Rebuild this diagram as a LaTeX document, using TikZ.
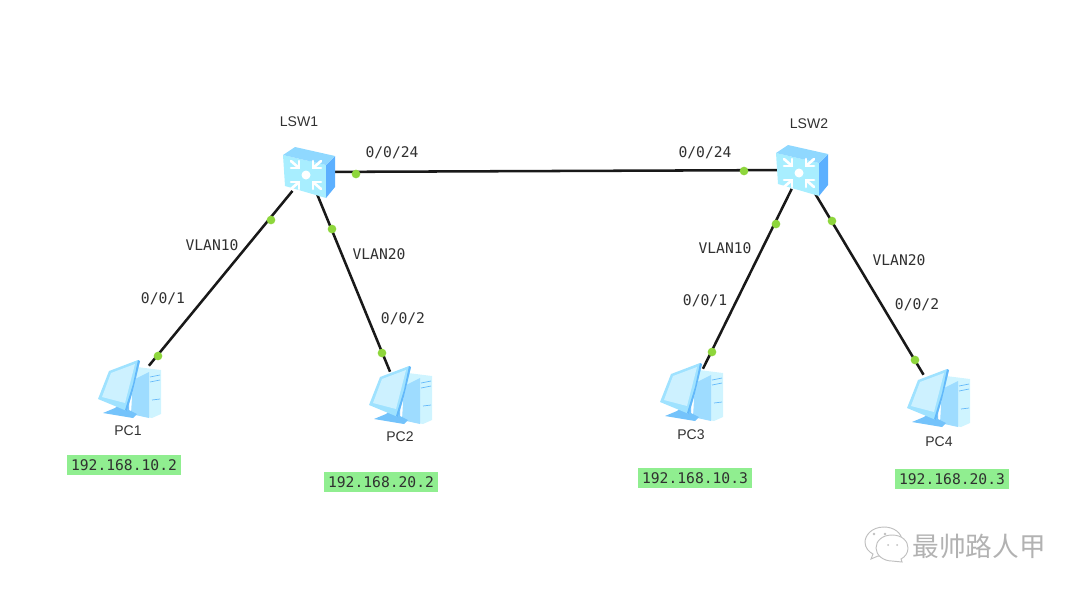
\documentclass[tikz,border=0pt]{standalone}
\usepackage{fontspec}
\setmainfont{Liberation Sans}
\setmonofont{DejaVu Sans Mono}
\newfontfamily\cjkfont{Noto Sans CJK SC}
\usetikzlibrary{positioning}
\definecolor{swfront}{HTML}{A8EEFF}
\definecolor{swside}{HTML}{5CB0FF}
\definecolor{swtop}{HTML}{8FD8FF}
\definecolor{pcscreen}{HTML}{CDF1FF}
\definecolor{pcframe}{HTML}{9FE2FF}
\definecolor{pcbody}{HTML}{9EDCFF}
\definecolor{pcdark}{HTML}{62B8FA}
\definecolor{pclight}{HTML}{CFF4FF}
\definecolor{portgreen}{HTML}{8ED63C}
\definecolor{ipgreen}{HTML}{90EE90}
\definecolor{labelgray}{HTML}{303030}
\tikzset{
  hub/.style={inner sep=0pt, minimum size=28pt},
  host/.style={inner sep=0pt, minimum width=40pt, minimum height=36pt},
  link/.style={line width=1.9pt, draw=black!90},
  portdot/.style={circle, fill=portgreen, inner sep=0pt, minimum size=6.5pt},
  portlabel/.style={font=\ttfamily\fontsize{11}{13}\selectfont, text=labelgray, inner sep=0pt},
  devlabel/.style={font=\fontsize{10.5}{12}\selectfont, text=labelgray, inner sep=0pt},
  iplabel/.style={font=\ttfamily\fontsize{11}{13}\selectfont, text=labelgray, fill=ipgreen,
    inner sep=0pt, minimum width=86pt, minimum height=15pt},
  chevron/.style={draw=white, line width=2pt, line cap=round, line join=round},
}
\newcommand{\switchicon}[1]{%
  \begin{scope}[shift={(#1)}]
    \fill[swfront] (-25,-17) -- (18,-7) -- (18,26) -- (-23,14) -- cycle;
    \fill[swside] (18,-7) -- (27,-16) -- (27,15) -- (18,26) -- cycle;
    \fill[swtop] (-25,-17) -- (-13,-25) -- (27,-16) -- (18,-7) -- cycle;
    \foreach \sx/\sy in {-1/-1, 1/-1, -1/1, 1/1} {
      \draw[chevron] ({-2+\sx*7},{3+\sy*7}) -- ({-2+\sx*15},{3+\sy*14});
      \draw[chevron] ({-2+\sx*7},{3+\sy*14}) -- ({-2+\sx*7},{3+\sy*7}) -- ({-2+\sx*15},{3+\sy*7});
    }
    \fill[white] (-2,3) circle (4.5);
  \end{scope}}
\newcommand{\pcicon}[1]{%
  \begin{scope}[shift={(#1)}]
    % tower
    \fill[pclight] (8,-23) -- (32,-20) -- (32,24) -- (23,28) -- (2,24) -- cycle;
    \fill[pcbody] (4,-10) -- (20,-18) -- (20,28) -- (2,24) -- cycle;
    \draw[pcdark, line width=.5pt] (21,-13) -- (31,-15) (21,-8) -- (31,-10) (23,10) -- (31,9);
    % stand
    \fill[pcdark!70!pcbody] (-26,23) -- (-14,18) -- (-8,12) -- (0,14) -- (0,20) -- (8,24) -- (4,28) -- cycle;
    % monitor
    \fill[pcframe] (-31,9) -- (-20,-19) -- (9,-30) -- (11,-29) -- (5,-3) -- (-2,21) -- cycle;
    \fill[pcdark] (9,-30) -- (11,-29) -- (4,0) -- (-2,21) -- (-4,20) -- (4,-6) -- cycle;
    \fill[pcscreen] (-27,7) -- (-18,-17) -- (6,-26) -- (-4,13) -- cycle;
  \end{scope}}
\begin{document}
\begin{tikzpicture}[x=0.75pt, y=-0.75pt]
  \useasboundingbox (0,0) rectangle (1080,593);
  \node[hub] (lsw1) at (308,172) {};
  \node[hub] (lsw2) at (801,170) {};
  \node[host] (pc1) at (129,390) {};
  \node[host] (pc2) at (400,396) {};
  \node[host] (pc3) at (691,393) {};
  \node[host] (pc4) at (938,399) {};
  % links
  \draw[link] (lsw1)--(lsw2);
  \draw[link] (lsw1)--(pc1);
  \draw[link] (lsw1)--(pc2);
  \draw[link] (lsw2)--(pc3);
  \draw[link] (lsw2)--(pc4);
  % devices
  \switchicon{lsw1}
  \switchicon{lsw2}
  \foreach \i in {1,...,4} {
    \pcicon{pc\i}
  }
  % port dots
  \foreach \i/\x/\y in {1/356/174, 2/744/171, 3/271/220, 4/158/356, 5/332/229,
    6/382/353, 7/776/224, 8/712/352, 9/832/221, 10/915/360} {
    \node[portdot] (dot\i) at (\x,\y) {};
  }
  % device names
  \node[devlabel] (lsw1name) at (299,122) {LSW1};
  \node[devlabel] (lsw2name) at (809,124) {LSW2};
  \node[devlabel] (pc1name) at (128,431) {PC1};
  \node[devlabel] (pc2name) at (400,437) {PC2};
  \node[devlabel] (pc3name) at (691,435) {PC3};
  \node[devlabel] (pc4name) at (939,442) {PC4};
  % port names
  \node[portlabel] (uplink1) at (392,153) {0/0/24};
  \node[portlabel] (uplink2) at (705,153) {0/0/24};
  \node[portlabel] (vlan1) at (212,245) {VLAN10};
  \node[portlabel] (vlan2) at (379,254) {VLAN20};
  \node[portlabel] (vlan3) at (725,248) {VLAN10};
  \node[portlabel] (vlan4) at (899,260) {VLAN20};
  \node[portlabel] (port1) at (163,299) {0/0/1};
  \node[portlabel] (port2) at (403,319) {0/0/2};
  \node[portlabel] (port3) at (705,301) {0/0/1};
  \node[portlabel] (port4) at (917,305) {0/0/2};
  % addresses
  \node[iplabel] (ip1) at (124,465) {192.168.10.2};
  \node[iplabel] (ip2) at (381,482) {192.168.20.2};
  \node[iplabel] (ip3) at (695,478) {192.168.10.3};
  \node[iplabel] (ip4) at (952,479) {192.168.20.3};
  % watermark
  \draw[gray!50, line width=.7pt, fill=white] (884,527) .. controls (871,527) and (865,536) .. (865,542)
    .. controls (865,548) and (869,552) .. (873,554) -- (871,559) -- (878,556)
    .. controls (890,558) and (902,550) .. (902,541) .. controls (902,533) and (894,527) .. (884,527) -- cycle;
  \draw[gray!50, line width=.7pt, fill=white] (892,535) .. controls (882,535) and (876,541) .. (876,548)
    .. controls (876,555) and (883,561) .. (892,561) -- (902,562) -- (901,559)
    .. controls (905,557) and (908,553) .. (908,548) .. controls (908,541) and (902,535) .. (892,535) -- cycle;
  \fill[gray!50] (874,534) circle (1.3) (885,534) circle (1.3) (888,545) circle (1) (897,545) circle (1);
  \node[inner sep=0pt, text=gray!60, font=\cjkfont\fontsize{20}{24}\selectfont] (mark) at (979,546) {最帅路人甲};
\end{tikzpicture}
\end{document}
